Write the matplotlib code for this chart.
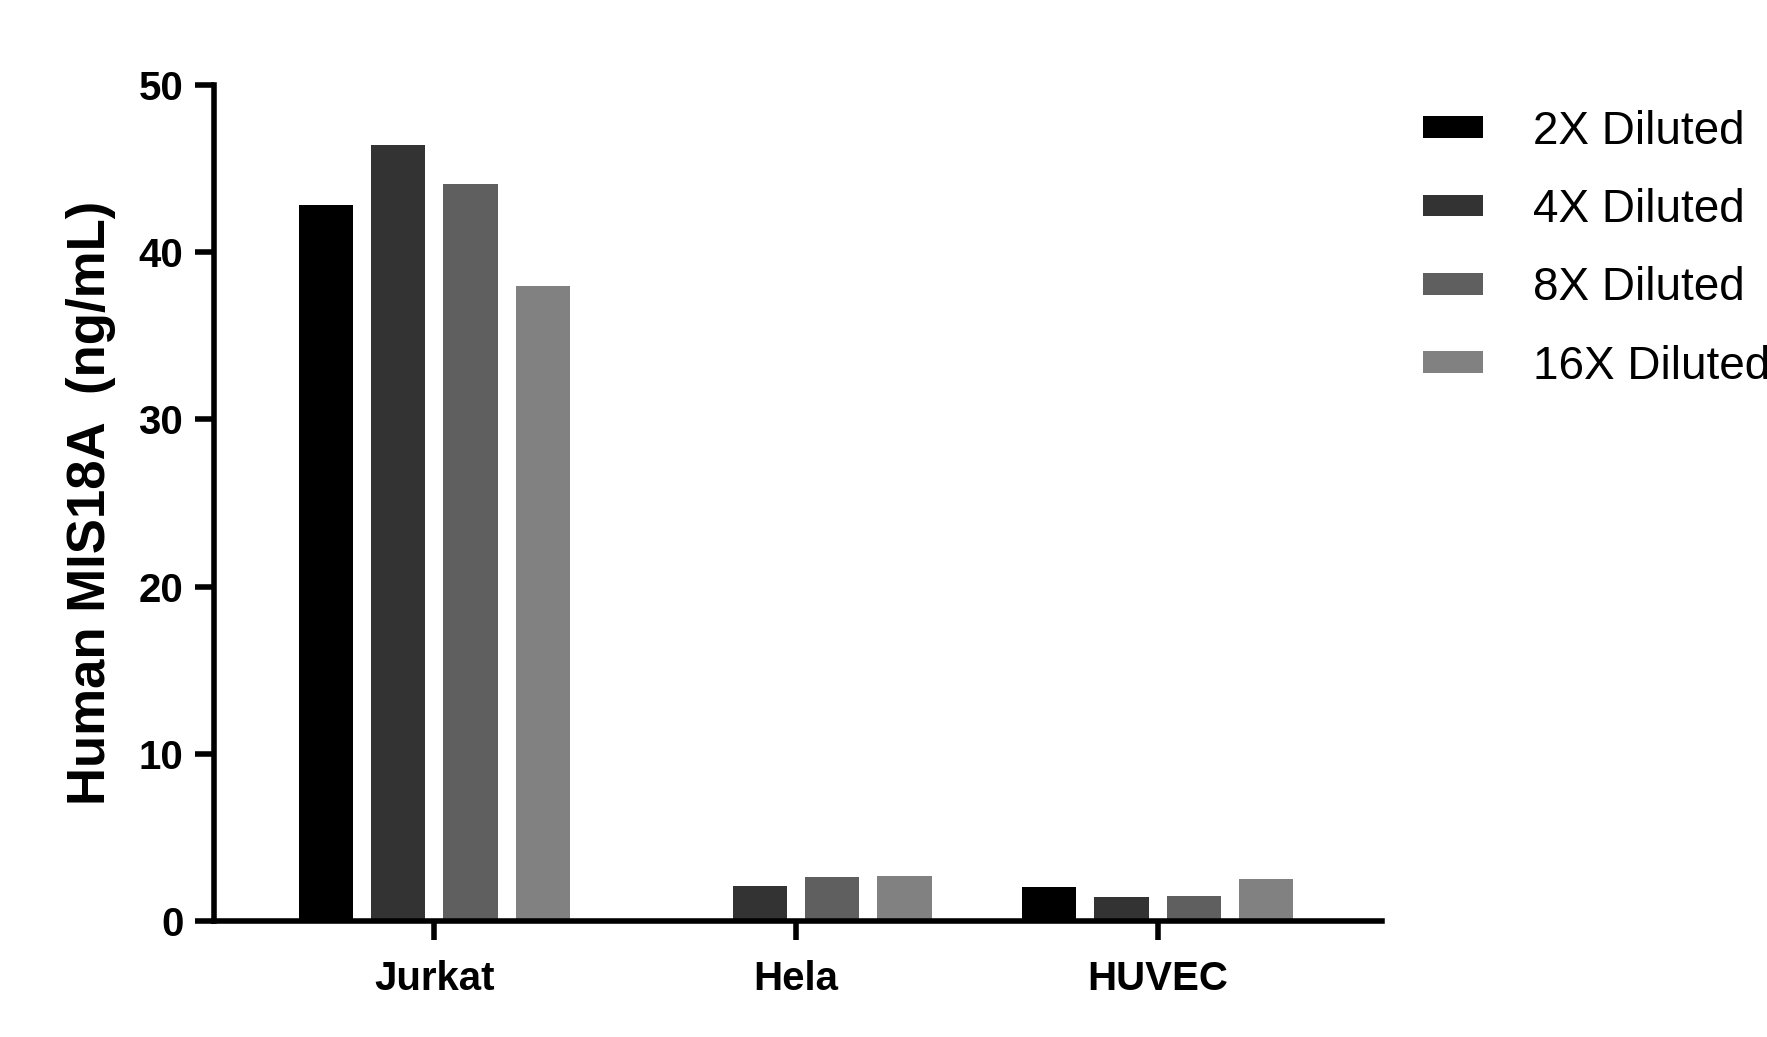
import numpy as np
import matplotlib.pyplot as plt

cells = ["Jurkat", "Hela", "HUVEC"]
series = ["2X Diluted", "4X Diluted", "8X Diluted", "16X Diluted"]
values = {
    "2X Diluted": [42.8, 0.0, 2.0],
    "4X Diluted": [46.4, 2.1, 1.4],
    "8X Diluted": [44.1, 2.6, 1.5],
    "16X Diluted": [38.0, 2.7, 2.5],
}
colors = ["#000000", "#333333", "#5f5f5f", "#818181"]

plt.rcParams['font.family'] = ['Liberation Sans', 'DejaVu Sans']
fig = plt.figure(figsize=(17.67, 10.37), dpi=100)
ax = fig.add_axes([0.121, 0.112, 0.661, 0.806])

x = np.arange(len(cells))
offsets = [-0.3, -0.1, 0.1, 0.3]
for s, off, c in zip(series, offsets, colors):
    ax.bar(x + off, values[s], width=0.15, color=c, label=s)

ax.set_xlim(-0.61, 2.62)
ax.set_ylim(0, 50)
ax.set_yticks([0, 10, 20, 30, 40, 50])
ax.set_xticks(x)
ax.set_xticklabels(cells)
for lab in ax.get_xticklabels() + ax.get_yticklabels():
    lab.set_fontweight('bold')
    lab.set_fontsize(29)
ax.tick_params(width=4, length=14, pad=8)
ax.tick_params(axis='x', pad=14)
for side in ['top', 'right']:
    ax.spines[side].set_visible(False)
for side in ['left', 'bottom']:
    ax.spines[side].set_linewidth(4)
ax.set_ylabel("Human MIS18A  (ng/mL)", fontsize=38, fontweight='bold', labelpad=16)

ax.legend(loc='upper left', bbox_to_anchor=(1.0, 1.02), frameon=False, fontsize=33,
          handlelength=1.3, handleheight=0.35, labelspacing=0.75, handletextpad=1.1)

fig.savefig("out.png", dpi=100)
